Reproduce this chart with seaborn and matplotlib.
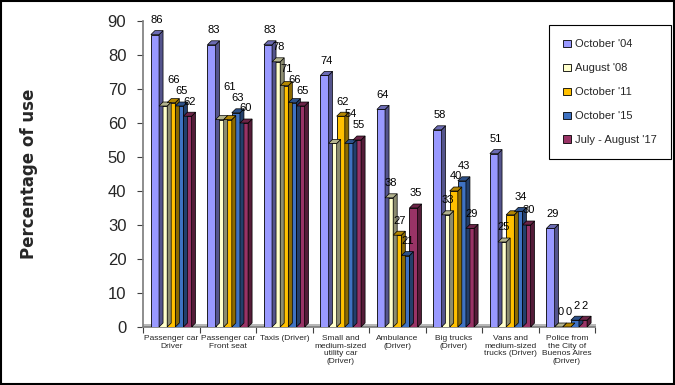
import matplotlib
matplotlib.use("Agg")
import matplotlib.pyplot as plt
import matplotlib.colors as mcolors
from matplotlib.patches import Polygon, Patch, Rectangle
import seaborn as sns
import pandas as pd
import numpy as np

categories = [
    "Passenger car\nDriver",
    "Passenger car\nFront seat",
    "Taxis (Driver)",
    "Small and\nmedium-sized\nutility car\n(Driver)",
    "Ambulance\n(Driver)",
    "Big trucks\n(Driver)",
    "Vans and\nmedium-sized\ntrucks (Driver)",
    "Police from\nthe City of\nBuenos Aires\n(Driver)",
]
series = ["October '04", "August '08", "October '11", "October '15", "July - August '17"]
oct04 = [86, 83, 83, 74, 64, 58, 51, 29]
aug08 = [65, 61, 78, 54, 38, 33, 25, 0]
oct11 = [66, 61, 71, 62, 27, 40, 33, 0]
oct15 = [65, 63, 66, 54, 21, 43, 34, 2]
julaug17 = [62, 60, 65, 55, 35, 29, 30, 2]
values = [oct04, aug08, oct11, oct15, julaug17]
colors = ["#9999FF", "#FFFFCC", "#FFC000", "#3F72C2", "#993366"]
# (category, series) value labels that the reference does not show
hidden_labels = {(0, 1), (1, 1), (3, 1), (6, 2)}

df = pd.DataFrame(
    [(c, s, v) for s, vals in zip(series, values) for c, v in zip(categories, vals)],
    columns=["category", "series", "value"],
)

sns.set_theme(style="white")
plt.rcParams["font.family"] = ["Liberation Sans", "DejaVu Sans"]

W, H = 675, 385
fig = plt.figure(figsize=(W / 100, H / 100), dpi=100)
ax = fig.add_axes([143 / W, 1 - 327 / H, 452 / W, 306 / H])

sns.barplot(
    data=df, x="category", y="value", hue="series", hue_order=series,
    order=categories, palette=colors, width=0.72, edgecolor="black",
    linewidth=0.6, legend=False, ax=ax, saturation=1, zorder=3,
)

ax.set_xlim(-0.5, len(categories) - 0.5)
ax.set_ylim(0, 90)

# depth of the pseudo 3D effect in data units
px_x = 452 / len(categories)
px_y = 306 / 90
dx = 4 / px_x
dy = 4 / px_y

def shade(c, f):
    r, g, b = mcolors.to_rgb(c)
    return (r * f, g * f, b * f)

labels = {}
for si, cont in enumerate(ax.containers):
    col = colors[si]
    for ci, bar in enumerate(cont):
        x0 = bar.get_x()
        w = bar.get_width()
        h = bar.get_height()
        x1 = x0 + w
        side = Polygon([(x1, 0), (x1 + dx, dy), (x1 + dx, h + dy), (x1, h)],
                       closed=True, facecolor=shade(col, 0.55), edgecolor="black",
                       linewidth=0.5, zorder=3)
        top = Polygon([(x0, h), (x0 + dx, h + dy), (x1 + dx, h + dy), (x1, h)],
                      closed=True, facecolor=shade(col, 0.7), edgecolor="black",
                      linewidth=0.5, zorder=3)
        ax.add_patch(side)
        ax.add_patch(top)
        if (ci, si) not in hidden_labels:
            labels[(ci, si)] = ax.annotate(
                f"{h:g}", xy=(x0 + w / 2 + dx / 2, h + dy), xytext=(0, 4),
                textcoords="offset points", ha="center", va="bottom",
                fontsize=8, color="black", zorder=5)

# raise a value label above its right-hand neighbour when the two collide
renderer = fig.canvas.get_renderer()
for ci in range(len(categories)):
    keys = sorted([k for k in labels if k[0] == ci], key=lambda k: -k[1])
    for i in range(1, len(keys)):
        cur = labels[keys[i]]
        nb = labels[keys[i - 1]]
        bc = cur.get_window_extent(renderer)
        bn = nb.get_window_extent(renderer)
        if bc.overlaps(bn):
            shift_px = bn.y1 + 1 - bc.y0
            ox, oy = cur.xyann
            cur.xyann = (ox, oy + shift_px * 72 / fig.dpi)

# floor
ax.fill_between([-0.5, len(categories) - 0.5 + dx], [0, 0], [dy * 0.7, dy * 0.7],
                color="#B8B8B8", zorder=1, linewidth=0)
ax.axhline(0, color="#808080", linewidth=1, zorder=2)

# axes styling
for s in ["top", "right"]:
    ax.spines[s].set_visible(False)
ax.spines["left"].set_color("#808080")
ax.spines["bottom"].set_color("#808080")
ax.set_yticks(np.arange(0, 91, 10))
ax.tick_params(axis="y", which="major", direction="out", length=4, width=0.8,
               color="#404040", labelsize=12, pad=8, left=True)
ax.set_xlabel("")
ax.set_ylabel("")
ax.set_xticks(range(len(categories)))
ax.set_xticklabels(categories, fontsize=6, linespacing=1.1)
ax.tick_params(axis="x", which="major", length=0, pad=6)
ax.set_xticks(np.arange(-0.5, len(categories), 1.0), minor=True)
ax.tick_params(axis="x", which="minor", direction="out", length=4, width=0.8,
               color="#404040", bottom=True)

fig.text(29 / W, 1 - 174 / H, "Percentage of use", rotation=90, ha="center",
         va="center", fontsize=12, fontweight="bold", family="DejaVu Sans")

handles = [Patch(facecolor=c, edgecolor="black", linewidth=0.6) for c in colors]
leg = fig.legend(handles, series, loc="upper left",
                 bbox_to_anchor=(549 / W, 1 - 25 / H), fontsize=8,
                 frameon=True, fancybox=False, framealpha=1, edgecolor="black",
                 handlelength=0.65, handleheight=0.65, handletextpad=0.35,
                 labelspacing=1.25, borderpad=1.3, borderaxespad=0)
leg.get_frame().set_linewidth(0.8)

fig.patches.append(Rectangle((0.001, 0.002), 0.997, 0.996, transform=fig.transFigure,
                             fill=False, edgecolor="black", linewidth=1.5))

fig.savefig("out.png", dpi=100, facecolor="white")
